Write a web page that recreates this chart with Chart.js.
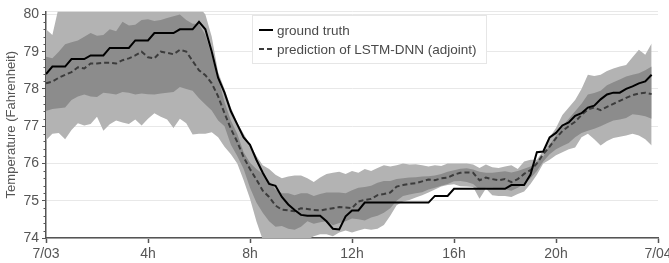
<!DOCTYPE html>
<html>
<head>
<meta charset="utf-8">
<script src="https://cdn.jsdelivr.net/npm/chart.js@4.4.0/dist/chart.umd.min.js"></script>
<style>
  html, body { margin: 0; padding: 0; background: #fff; }
  #wrap { width: 669px; height: 263px; }
</style>
</head>
<body>
<div id="wrap"><canvas id="tempChart"></canvas></div>
<script>
// 15-minute samples, 7/03 00:00 .. 23:45
const groundTruth = [
  78.4, 78.6, 78.6, 78.6, 78.8, 78.8, 78.8, 78.9, 78.9, 78.9, 79.1, 79.1,
  79.1, 79.1, 79.3, 79.3, 79.3, 79.5, 79.5, 79.5, 79.5, 79.6, 79.6, 79.6,
  79.8, 79.6, 79.0, 78.3, 77.9, 77.4, 77.05, 76.7, 76.5, 76.1, 75.75, 75.45,
  75.4, 75.1, 74.9, 74.75, 74.62, 74.6, 74.6, 74.6, 74.45, 74.25, 74.23, 74.58,
  74.74, 74.74, 74.95, 74.95, 74.95, 74.95, 74.95, 74.95, 74.95, 74.95, 74.95, 74.95,
  74.95, 75.13, 75.13, 75.13, 75.32, 75.32, 75.32, 75.32, 75.32, 75.32, 75.32, 75.32,
  75.32, 75.42, 75.42, 75.42, 75.7, 76.3, 76.32, 76.7, 76.82, 77.02, 77.1, 77.28,
  77.35, 77.5, 77.55, 77.72, 77.85, 77.9, 77.9, 78.0, 78.07, 78.15, 78.2, 78.38
];
const prediction = [
  78.15, 78.2, 78.3, 78.38, 78.45, 78.58, 78.55, 78.68, 78.68, 78.7, 78.7, 78.68,
  78.77, 78.82, 78.9, 79.0, 78.85, 78.82, 79.0, 78.97, 78.93, 79.05, 79.0, 78.75,
  78.5, 78.37, 78.15, 77.8, 77.35, 76.93, 76.58, 76.17, 75.85, 75.57, 75.27, 75.1,
  74.87, 74.76, 74.74, 74.72, 74.8, 74.78, 74.75, 74.74, 74.77, 74.8, 74.83, 74.82,
  74.8, 74.98, 75.02, 75.05, 75.15, 75.18, 75.22, 75.38, 75.42, 75.45, 75.47, 75.52,
  75.57, 75.55, 75.6, 75.62, 75.7, 75.75, 75.76, 75.75, 75.55, 75.62, 75.58, 75.55,
  75.58, 75.5, 75.58, 75.72, 75.82, 76.0, 76.25, 76.45, 76.68, 76.87, 77.0, 77.12,
  77.3, 77.45, 77.5, 77.43, 77.52, 77.6, 77.68, 77.76, 77.83, 77.88, 77.9, 77.86
];
const innerUpper = [
  78.86, 78.82, 79.0, 79.2, 79.25, 79.3, 79.4, 79.5, 79.43, 79.45, 79.6, 79.55,
  79.8, 79.7, 79.72, 79.85, 79.87, 79.82, 79.85, 79.9, 79.95, 80.0, 79.85, 79.75,
  79.75, 79.45, 78.9, 78.3, 77.65, 77.15, 76.8, 76.3, 76.02, 75.85, 75.72, 75.52,
  75.3, 75.2, 75.2, 75.15, 75.2, 75.2, 75.13, 75.18, 75.22, 75.22, 75.22, 75.2,
  75.28, 75.35, 75.37, 75.4, 75.48, 75.53, 75.53, 75.58, 75.6, 75.62, 75.63, 75.65,
  75.66, 75.68, 75.72, 75.78, 75.82, 75.86, 75.87, 75.84, 75.78, 75.75, 75.75, 75.77,
  75.79, 75.76, 75.8, 75.86, 75.92, 76.05, 76.18, 76.5, 76.75, 77.0, 77.2, 77.4,
  77.6, 77.85, 77.89, 77.95, 78.1, 78.18, 78.25, 78.33, 78.38, 78.42, 78.5, 78.6
];
const innerLower = [
  77.41, 77.46, 77.48, 77.5, 77.7, 77.8, 77.85, 77.8, 77.78, 77.9, 77.88, 77.85,
  77.92, 77.9, 77.85, 77.88, 77.86, 77.85, 77.88, 77.9, 77.92, 78.05, 78.0, 77.95,
  77.75, 77.58, 77.42, 77.15, 77.0, 76.5, 76.2, 75.85, 75.35, 74.95, 74.68, 74.45,
  74.3, 74.32, 74.25, 74.22, 74.3, 74.45, 74.38, 74.42, 74.45, 74.34, 74.4, 74.45,
  74.52, 74.5, 74.47, 74.55, 74.6, 74.68, 74.8, 75.0, 75.13, 75.17, 75.2, 75.23,
  75.3, 75.35, 75.4, 75.45, 75.52, 75.53, 75.5, 75.45, 75.3, 75.35, 75.35, 75.32,
  75.31, 75.27, 75.35, 75.45, 75.6, 75.8, 76.05, 76.25, 76.38, 76.47, 76.55, 76.7,
  76.82, 76.88, 76.93, 77.0, 77.08, 77.15, 77.18, 77.22, 77.32, 77.3, 77.27, 77.2
];
const outerUpper = [
  79.6, 79.45, 80.2, 80.4, 80.5, 80.5, 80.5, 80.5, 80.5, 80.5, 80.5, 80.5,
  80.5, 80.5, 80.5, 80.5, 80.5, 80.5, 80.5, 80.5, 80.5, 80.5, 80.5, 80.3,
  80.2, 80.0, 79.4, 78.45, 78.0, 77.5, 77.1, 76.8, 76.5, 76.2, 75.95, 75.85,
  75.7, 75.6, 75.65, 75.68, 75.68, 75.6, 75.5, 75.62, 75.72, 75.75, 75.78, 75.72,
  75.8, 75.75, 75.85, 75.8, 75.88, 75.95, 75.92, 75.95, 76.0, 75.97, 75.98, 75.95,
  75.92, 75.95, 75.93, 76.0, 76.0, 76.0, 76.0, 75.97, 75.88, 75.97, 75.9, 75.88,
  75.92, 75.95, 75.85, 76.05, 76.1, 76.1, 76.35, 76.7, 76.95, 77.3, 77.5, 77.7,
  78.0, 78.38, 78.35, 78.38, 78.48, 78.55, 78.6, 78.64, 78.85, 79.05, 78.92, 79.22
];
const outerLower = [
  76.62, 76.8, 76.82, 76.65, 76.9, 77.08, 77.02, 77.06, 77.25, 76.88, 77.05, 77.15,
  77.1, 77.06, 77.18, 77.02, 77.2, 77.35, 77.25, 77.18, 76.95, 77.2, 77.08, 76.78,
  76.8, 76.8, 76.84, 76.7, 76.45, 76.25, 76.0, 75.55, 75.05, 74.45, 73.95, 73.8,
  73.8, 73.7, 73.75, 73.8, 73.85, 73.95, 74.05, 74.1, 74.1, 74.05, 74.15, 74.2,
  74.15, 74.2, 74.25, 74.22, 74.25, 74.35, 74.6, 74.88, 74.98, 75.02, 75.09, 75.15,
  75.22, 75.3, 75.38, 75.42, 75.44, 75.39, 75.38, 75.37, 75.05, 75.33, 75.15, 75.13,
  75.13, 75.1, 75.18, 75.25, 75.45, 75.7, 76.0, 76.1, 76.22, 76.3, 76.38, 76.43,
  76.7, 76.8, 76.65, 76.48, 76.6, 76.68, 76.72, 76.75, 76.8, 76.75, 76.65, 76.48
];
const hours = groundTruth.map((_, i) => i * 0.25);
const xTicks = [0, 4, 8, 12, 16, 20, 24];
const xTickLabels = ['7/03', '4h', '8h', '12h', '16h', '20h', '7/04'];
const yTicks = [74, 75, 76, 77, 78, 79, 80, 80.08];
const legendLabels = ['ground truth', 'prediction of LSTM-DNN (adjoint)'];

const FONT = "'Liberation Sans', Arial, sans-serif";
const AXIS = '#555';

function pts(arr) {
    return arr.map((y, i) => ({ x: hours[i], y: y }));
}

function band(arr, color, fill) {
    return {
        data: pts(arr),
        borderColor: 'transparent',
        borderWidth: 0,
        backgroundColor: color,
        pointRadius: 0,
        fill: fill
    };
}

const extras = {
    id: 'extras',
    afterDraw(chart) {
        const ctx = chart.ctx;
        const y = chart.scales.y;
        // minor ticks on y axis
        ctx.save();
        ctx.strokeStyle = AXIS;
        ctx.lineWidth = 1;
        for (let k = 0; k <= 30; k++) {
            if (k % 5 === 0) continue;
            const py = Math.round(y.getPixelForValue(74 + k * 0.2)) + 0.5;
            ctx.beginPath();
            ctx.moveTo(y.right - 2.5, py);
            ctx.lineTo(y.right, py);
            ctx.stroke();
        }
        // legend box
        const bx = 252.5, by = 15.5, bw = 234, bh = 48;
        ctx.fillStyle = '#fff';
        ctx.fillRect(bx, by, bw, bh);
        ctx.strokeStyle = '#e6e6e6';
        ctx.strokeRect(bx, by, bw, bh);
        ctx.font = '13.5px ' + FONT;
        ctx.textBaseline = 'middle';
        ctx.fillStyle = '#4a4a4a';
        const rows = [30, 49];
        rows.forEach((ry, i) => {
            ctx.beginPath();
            ctx.lineWidth = 2;
            ctx.strokeStyle = i === 0 ? '#000' : '#3c3c3c';
            ctx.setLineDash(i === 0 ? [] : [5, 3]);
            ctx.moveTo(259, ry);
            ctx.lineTo(273, ry);
            ctx.stroke();
            ctx.setLineDash([]);
            ctx.fillText(legendLabels[i], 277, ry + 1);
        });
        ctx.restore();
    }
};

new Chart(document.getElementById('tempChart').getContext('2d'), {
    type: 'line',
    data: {
        datasets: [
            { data: pts(groundTruth), borderColor: '#000', borderWidth: 2, pointRadius: 0, fill: false },
            { data: pts(prediction), borderColor: '#3c3c3c', borderWidth: 2, borderDash: [5, 3], pointRadius: 0, fill: false },
            band(innerUpper, '#8c8c8c', '+1'),
            band(innerLower, '#8c8c8c', false),
            band(outerUpper, '#b3b3b3', '+1'),
            band(outerLower, '#b3b3b3', false)
        ]
    },
    options: {
        responsive: true,
        maintainAspectRatio: false,
        animation: false,
        layout: { padding: { top: 7, right: 11, left: 0, bottom: 0 } },
        plugins: { legend: { display: false }, tooltip: { enabled: false } },
        elements: { line: { tension: 0 } },
        scales: {
            x: {
                type: 'linear',
                min: 0,
                max: 24,
                afterBuildTicks: (s) => { s.ticks = xTicks.map(v => ({ value: v })); },
                afterFit: (s) => { s.height = 25; s.paddingRight = 0; s.paddingLeft = 0; },
                ticks: {
                    autoSkip: false,
                    maxRotation: 0,
                    padding: 3,
                    color: AXIS,
                    font: { family: FONT, size: 14 },
                    callback: (v) => xTickLabels[xTicks.indexOf(v)]
                },
                grid: { drawOnChartArea: false, tickLength: 5, tickColor: AXIS, tickWidth: 1.5 },
                border: { color: AXIS, width: 1.5 }
            },
            y: {
                min: 74,
                max: 80.08,
                afterBuildTicks: (s) => { s.ticks = yTicks.map(v => ({ value: v })); },
                afterFit: (s) => { s.width = 46; },
                ticks: {
                    padding: 3,
                    color: AXIS,
                    font: { family: FONT, size: 14 },
                    callback: (v) => Number.isInteger(v) ? String(v) : ''
                },
                grid: {
                    color: '#e8e8e8',
                    tickLength: 4,
                    tickColor: (c) => Number.isInteger(c.tick && c.tick.value) ? AXIS : 'transparent'
                },
                border: { color: AXIS, width: 1.5 },
                title: {
                    display: true,
                    text: 'Temperature (Fahrenheit)',
                    color: AXIS,
                    font: { family: FONT, size: 13 },
                    padding: { top: 4, bottom: 0 }
                }
            }
        }
    },
    plugins: [extras]
});
</script>
</body>
</html>
